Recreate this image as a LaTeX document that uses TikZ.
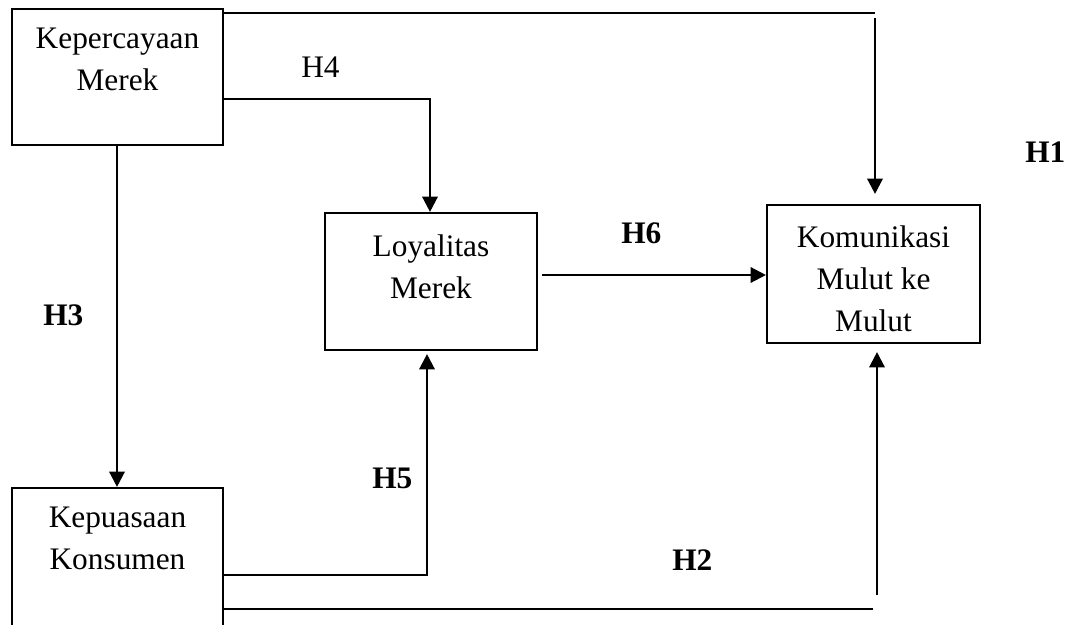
\documentclass[tikz,border=0pt]{standalone}
\usepackage{fontspec}
\setmainfont{Liberation Serif}
\usetikzlibrary{fit,arrows.meta}
\begin{document}
\begin{tikzpicture}[x=0.75pt,y=-0.75pt,
  box/.style={draw,line width=1.6pt,inner sep=0pt},
  txt/.style={font=\fontsize{23.5}{31.5}\selectfont,align=center,inner sep=0pt,anchor=north},
  lab/.style={font=\fontsize{23.5}{31.5}\selectfont\bfseries,inner sep=0pt,anchor=base west},
  labn/.style={font=\fontsize{23.5}{31.5}\selectfont,inner sep=0pt,anchor=base west},
  ln/.style={line width=1.8pt},
  arr/.style={line width=1.8pt,-{Triangle[length=11.5pt,width=11.5pt]}}]
\useasboundingbox (0,0) rectangle (1080,624);
\fill[white] (0,0) rectangle (1080,624);
% boxes
\node[box,fit={(12,9)(223,145)}] (kep) {};
\node[box,fit={(325,213)(537,350)}] (loy) {};
\node[box,fit={(767,205)(980,343)}] (kom) {};
\node[box,fit={(12,488)(223,650)}] (kup) {};
% texts
\node[txt] (kept) at (117.5,28) {Kepercayaan\\Merek};
\node[txt] (loyt) at (431,234) {Loyalitas\\Merek};
\node[txt] (komt) at (873.5,225) {Komunikasi\\Mulut ke\\Mulut};
\node[txt] (kupt) at (117.5,507) {Kepuasaan\\Konsumen};
% coordinates
\coordinate (h1a) at (875,13);
\coordinate (h1b) at (875,18);
\coordinate (h4c) at (430,99);
\coordinate (h3x) at (117,0);
\coordinate (h6) at (542,275);
\coordinate (h5c) at (427,575);
\coordinate (h2a) at (873,609);
\coordinate (h2b) at (877,595);
% connectors
\draw[ln] (kep.east |- h1a) -- (h1a);
\draw[arr,shorten >=7.5pt] (h1b) -- (kom.north -| h1b);
\draw[arr] (kep.east |- h4c) -- (h4c) -- (loy.north -| h4c);
\draw[arr] (kep.south -| h3x) -- (kup.north -| h3x);
\draw[arr] (h6) -- (kom.west |- h6);
\draw[arr,shorten >=2.25pt] (kup.east |- h5c) -- (h5c) -- (loy.south -| h5c);
\draw[ln] (kup.east |- h2a) -- (h2a);
\draw[arr,shorten >=6pt] (h2b) -- (kom.south -| h2b);
% labels
\node[lab] (H1) at (1025,162) {H1};
\node[labn] (H4) at (301,78) {H4};
\node[lab] (H6) at (621,243) {H6};
\node[lab] (H3) at (43,325) {H3};
\node[lab] (H5) at (372,488) {H5};
\node[lab] (H2) at (672,570) {H2};
\end{tikzpicture}
\end{document}
